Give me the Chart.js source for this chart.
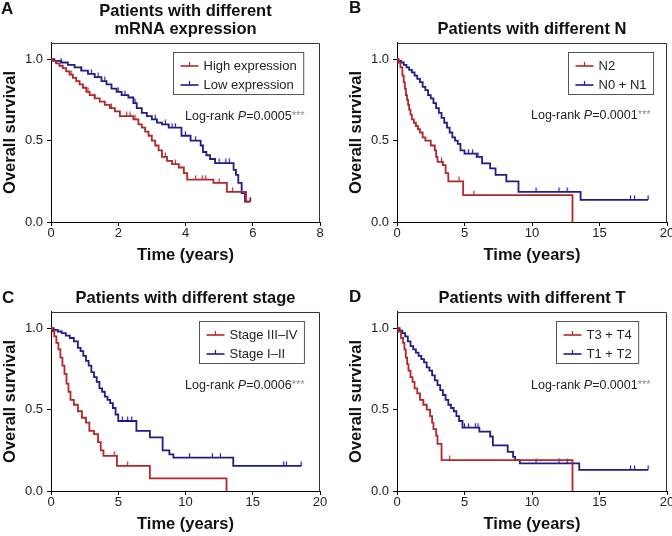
<!DOCTYPE html>
<html lang="en">
<head>
  <meta charset="UTF-8">
  <title>Overall survival by mRNA expression, N, stage and T</title>
  <script src="https://cdn.jsdelivr.net/npm/chart.js"></script>
  <style>
    body { margin: 0; background: #fff; }
    #grid { position: relative; width: 672px; height: 536px; }
    .panel { position: absolute; width: 336px; height: 268px; }
  </style>
</head>
<body>
  <div id="grid">
    <div class="panel" style="left:0;top:0"><canvas id="chartA" width="336" height="268"></canvas></div>
    <div class="panel" style="left:336px;top:0"><canvas id="chartB" width="336" height="268"></canvas></div>
    <div class="panel" style="left:0;top:268px"><canvas id="chartC" width="336" height="268"></canvas></div>
    <div class="panel" style="left:336px;top:268px"><canvas id="chartD" width="336" height="268"></canvas></div>
  </div>

  <script>
    // tick values / labels
    const yTickValues = [0, 0.5, 1.0];
    const yTickLabels = ['0.0', '0.5', '1.0'];
    const xTicksA = [0, 2, 4, 6, 8];
    const xTicksBCD = [0, 5, 10, 15, 20];
    const pValues = ['0.0005', '0.0001', '0.0006', '0.0001'];

    // A: mRNA expression (event times in years, survival after each event, censor times)
    const aHighTime = [0.05, 0.15, 0.25, 0.35, 0.45, 0.55, 0.65, 0.75, 0.85, 0.95, 1.05, 1.15, 1.3, 1.45, 1.6, 1.75, 1.9, 2.05, 2.45, 2.6, 2.7, 2.8, 2.9, 3.0, 3.1, 3.2, 3.3, 3.45, 3.6, 3.8, 3.95, 4.05, 4.83, 5.23, 5.8];
    const aHighSurv = [0.99, 0.975, 0.96, 0.945, 0.925, 0.905, 0.885, 0.865, 0.845, 0.825, 0.8, 0.78, 0.76, 0.74, 0.72, 0.7, 0.68, 0.65, 0.63, 0.6, 0.58, 0.555, 0.53, 0.5, 0.47, 0.44, 0.4, 0.375, 0.355, 0.335, 0.3, 0.26, 0.24, 0.185, 0.125];
    const aHighCens = [0.6, 1.1, 1.3, 1.8, 2.25, 2.35, 2.5, 3.4, 3.7, 4.3, 4.5, 4.6, 5.0, 5.4, 5.92];
    const aLowTime = [0.1, 0.3, 0.5, 0.7, 0.9, 1.1, 1.3, 1.5, 1.65, 1.8, 1.95, 2.1, 2.3, 2.45, 2.55, 2.7, 2.85, 3.0, 3.15, 3.3, 3.5, 3.88, 4.15, 4.45, 4.52, 4.62, 4.73, 4.88, 5.43, 5.5, 5.57, 5.67, 5.77];
    const aLowSurv = [0.99, 0.98, 0.965, 0.95, 0.93, 0.91, 0.89, 0.865, 0.845, 0.82, 0.8, 0.78, 0.765, 0.73, 0.7, 0.67, 0.65, 0.63, 0.61, 0.6, 0.58, 0.53, 0.5, 0.47, 0.43, 0.41, 0.387, 0.362, 0.32, 0.29, 0.24, 0.177, 0.125];
    const aLowCens = [0.3, 0.9, 1.2, 1.4, 1.6, 2.0, 2.2, 2.5, 3.1, 3.4, 3.6, 3.7, 4.0, 4.3, 5.0, 5.2, 5.3, 5.93];

    // B: N stage
    const bN2Time = [0.1, 0.25, 0.4, 0.5, 0.58, 0.66, 0.74, 0.82, 0.9, 1.0, 1.1, 1.25, 1.4, 1.55, 1.7, 1.9, 2.1, 2.5, 2.8, 2.9, 3.0, 3.4, 3.6, 3.8, 4.9, 13.0];
    const bN2Surv = [0.98, 0.95, 0.9, 0.86, 0.82, 0.78, 0.75, 0.72, 0.69, 0.66, 0.63, 0.61, 0.59, 0.57, 0.55, 0.52, 0.5, 0.47, 0.44, 0.4, 0.37, 0.35, 0.3, 0.25, 0.165, 0];
    const bN2Cens = [3.3, 4.6, 5.7];
    const bN01Time = [0.1, 0.3, 0.5, 0.7, 0.9, 1.1, 1.3, 1.5, 1.7, 1.9, 2.1, 2.3, 2.5, 2.7, 2.9, 3.1, 3.3, 3.5, 3.7, 3.9, 4.1, 4.3, 4.5, 4.7, 5.0, 5.9, 6.3, 6.9, 7.3, 8.1, 9.0, 13.6];
    const bN01Surv = [0.99, 0.98, 0.965, 0.95, 0.935, 0.92, 0.9, 0.88, 0.86, 0.83, 0.81, 0.78, 0.76, 0.73, 0.7, 0.67, 0.64, 0.61, 0.58, 0.55, 0.52, 0.5, 0.48, 0.44, 0.42, 0.4, 0.36, 0.33, 0.29, 0.25, 0.185, 0.136];
    const bN01Cens = [5.3, 5.6, 6.0, 10.3, 12.0, 12.6, 17.3, 17.6, 18.6];

    // C: stage
    const cLateTime = [0.1, 0.25, 0.4, 0.55, 0.7, 0.85, 1.0, 1.15, 1.3, 1.45, 1.7, 2.0, 2.3, 2.6, 2.85, 3.2, 3.5, 3.7, 3.9, 4.9, 7.35, 13.05];
    const cLateSurv = [0.98, 0.95, 0.91, 0.87, 0.82, 0.77, 0.72, 0.66, 0.61, 0.56, 0.53, 0.49, 0.45, 0.42, 0.37, 0.35, 0.3, 0.25, 0.216, 0.154, 0.078, 0];
    const cLateCens = [4.7, 5.7];
    const cEarlyTime = [0.2, 0.5, 0.8, 1.1, 1.4, 1.7, 2.0, 2.2, 2.4, 2.6, 2.8, 3.0, 3.2, 3.4, 3.6, 3.8, 4.0, 4.2, 4.4, 4.6, 4.8, 5.0, 6.35, 7.35, 8.3, 8.8, 9.1, 13.55];
    const cEarlySurv = [0.99, 0.98, 0.97, 0.955, 0.94, 0.92, 0.88, 0.86, 0.83, 0.8, 0.77, 0.73, 0.7, 0.67, 0.63, 0.61, 0.58, 0.56, 0.54, 0.51, 0.47, 0.43, 0.37, 0.33, 0.25, 0.225, 0.205, 0.154];
    const cEarlyCens = [5.3, 5.7, 6.0, 10.3, 12.0, 12.6, 17.3, 17.5, 18.6];

    // D: T stage
    const dT34Time = [0.1, 0.3, 0.45, 0.55, 0.65, 0.75, 0.85, 1.0, 1.15, 1.3, 1.5, 1.7, 1.95, 2.2, 2.45, 2.6, 2.7, 2.9, 3.0, 3.3, 13.0];
    const dT34Surv = [0.98, 0.94, 0.91, 0.87, 0.82, 0.78, 0.74, 0.7, 0.67, 0.63, 0.6, 0.56, 0.53, 0.5, 0.46, 0.42, 0.38, 0.34, 0.29, 0.19, 0];
    const dT34Cens = [3.9];
    const dT12Time = [0.2, 0.4, 0.6, 0.8, 1.0, 1.2, 1.4, 1.6, 1.8, 2.0, 2.2, 2.4, 2.6, 2.8, 3.0, 3.2, 3.4, 3.6, 3.8, 4.0, 4.2, 4.4, 4.6, 4.85, 6.1, 6.9, 7.1, 8.2, 8.6, 8.75, 9.1, 13.5];
    const dT12Surv = [0.985, 0.97, 0.95, 0.92, 0.89, 0.87, 0.85, 0.83, 0.81, 0.79, 0.76, 0.74, 0.71, 0.68, 0.65, 0.62, 0.59, 0.56, 0.53, 0.51, 0.49, 0.46, 0.43, 0.39, 0.365, 0.335, 0.28, 0.24, 0.21, 0.19, 0.17, 0.13];
    const dT12Cens = [5.0, 5.3, 5.8, 6.0, 10.3, 12.0, 12.6, 17.3, 17.6, 18.6];

    const RED = '#b3262c';
    const BLUE = '#1f1d8a';
    const FAMILY = "'Liberation Sans', Arial, Helvetica, sans-serif";
    Chart.defaults.font.family = FAMILY;
    Chart.defaults.color = '#222';

    function survAt(times, surv, t) {
      let s = 1;
      times.forEach((ti, i) => { if (ti <= t) s = surv[i]; });
      return s;
    }

    function kmCurve(times, surv, cens) {
      const pts = [{x: 0, y: 1}];
      times.forEach((t, i) => pts.push({x: t, y: surv[i]}));
      const lastEvent = times[times.length - 1];
      const lastCens = Math.max(...cens);
      if (lastCens > lastEvent) pts.push({x: lastCens, y: surv[surv.length - 1]});
      return pts;
    }

    // small upward tick used for censored patients
    function tickMark(color) {
      const c = document.createElement('canvas');
      c.width = 3; c.height = 10;
      const g = c.getContext('2d');
      g.strokeStyle = color; g.lineWidth = 1.2;
      g.beginPath(); g.moveTo(1.5, 0.5); g.lineTo(1.5, 5); g.stroke();
      return c;
    }

    function kmSets(label, color, times, surv, cens) {
      return [
        { label, data: kmCurve(times, surv, cens), borderColor: color, borderWidth: 1.8, stepped: true, pointRadius: 0, fill: false },
        { label: label + ' (censored)', censor: true, data: cens.map(t => ({x: t, y: survAt(times, surv, t)})),
          showLine: false, pointStyle: tickMark(color), pointRadius: 3, borderColor: color }
      ];
    }

    // frame, inside legend, log-rank note and panel letter
    const kmExtras = {
      id: 'kmExtras',
      afterDraw(chart, args, opts) {
        const {ctx, chartArea: a} = chart;
        ctx.save();
        ctx.strokeStyle = '#333';
        ctx.lineWidth = 1;
        ctx.beginPath();
        ctx.moveTo(a.left, a.top + 0.5);
        ctx.lineTo(a.right - 0.5, a.top + 0.5);
        ctx.lineTo(a.right - 0.5, a.bottom);
        ctx.stroke();

        // legend box
        const items = chart.data.datasets.filter(d => !d.censor);
        ctx.font = '13px ' + FAMILY;
        const textW = Math.max(...items.map(d => ctx.measureText(d.label).width));
        const lx = Math.round(a.left + opts.legend.dx) + 0.5;
        const ly = Math.round(a.top + opts.legend.dy) + 0.5;
        ctx.strokeStyle = '#555';
        ctx.strokeRect(lx, ly, 7 + 18 + 5 + textW + 7, 42);
        ctx.textBaseline = 'middle';
        ctx.textAlign = 'left';
        items.forEach((d, i) => {
          const y = Math.round(ly + 13 + i * 19);
          ctx.strokeStyle = d.borderColor;
          ctx.lineWidth = 1.6;
          ctx.beginPath(); ctx.moveTo(lx + 7, y); ctx.lineTo(lx + 25, y); ctx.stroke();
          ctx.lineWidth = 1.2;
          ctx.beginPath(); ctx.moveTo(lx + 16, y); ctx.lineTo(lx + 16, y - 4); ctx.stroke();
          ctx.fillStyle = '#222';
          ctx.fillText(d.label, lx + 30, y + 0.5);
        });

        // Log-rank P
        let x = a.left + opts.logrank.dx;
        const y = a.top + opts.logrank.dy;
        const parts = [
          ['12.5px ', 'Log-rank ', '#222', 0],
          ['italic 12.5px ', 'P', '#222', 0],
          ['12.5px ', '=' + opts.logrank.p, '#222', 0],
          ['11px ', '***', '#8c8c8c', -1]
        ];
        parts.forEach(([font, text, color, dy]) => {
          ctx.font = font + FAMILY;
          ctx.fillStyle = color;
          ctx.fillText(text, x, y + dy);
          x += ctx.measureText(text).width;
        });

        // panel letter
        ctx.font = 'bold 17px ' + FAMILY;
        ctx.fillStyle = '#111';
        ctx.fillText(opts.letter.text, opts.letter.x, opts.letter.y);
        ctx.restore();
      }
    };

    function makeChart(id, p) {
      return new Chart(document.getElementById(id), {
        type: 'line',
        data: { datasets: p.datasets },
        plugins: [kmExtras],
        options: {
          responsive: false,
          animation: false,
          events: [],
          layout: { padding: { left: 0, right: p.padRight, top: 0, bottom: 0 } },
          scales: {
            x: {
              type: 'linear', min: 0, max: p.xTicks[p.xTicks.length - 1],
              afterBuildTicks: s => { s.ticks = p.xTicks.map(v => ({value: v})); },
              afterFit: s => { s.height = p.xHeight; s.paddingLeft = 0; s.paddingRight = 0; },
              ticks: { font: { size: 13 }, padding: 0, maxRotation: 0, autoSkip: false },
              grid: { drawOnChartArea: false, drawTicks: true, tickLength: 4, color: '#000' },
              border: { color: '#000', width: 1 },
              title: { display: true, text: 'Time (years)', color: '#111',
                font: { size: 16.5, weight: 'bold', lineHeight: 1.09 }, padding: { top: 0, bottom: p.xTitlePad } }
            },
            y: {
              type: 'linear', min: 0, max: 1.1,
              afterBuildTicks: s => { s.ticks = yTickValues.map(v => ({value: v})); },
              afterFit: s => { s.width = p.yWidth; s.paddingTop = 0; s.paddingBottom = 0; },
              ticks: { font: { size: 13 }, padding: 4, callback: (v, i) => yTickLabels[i] },
              grid: { drawOnChartArea: false, drawTicks: true, tickLength: 4, color: '#000' },
              border: { color: '#000', width: 1 },
              title: { display: true, text: 'Overall survival', color: '#111',
                font: { size: 16.5, weight: 'bold', lineHeight: 1.09 }, padding: { top: p.yTitlePad, bottom: 0 } }
            }
          },
          plugins: {
            legend: { display: false },
            tooltip: { enabled: false },
            title: {
              display: true, text: p.title, fullSize: false, color: '#111',
              font: { size: 16.5, weight: 'bold', lineHeight: 1.09 },
              padding: p.titlePad
            },
            kmExtras: { legend: p.legend, logrank: p.logrank, letter: p.letter }
          }
        }
      });
    }

    makeChart('chartA', {
      title: ['Patients with different', 'mRNA expression'], titlePad: { top: 2, bottom: 5 },
      padRight: 16, yWidth: 51, yTitlePad: 1, xHeight: 46, xTitlePad: 4, xTicks: xTicksA,
      legend: { dx: 122, dy: 9 }, logrank: { dx: 134, dy: 74, p: pValues[0] }, letter: { text: 'A', x: 1, y: 9 },
      datasets: [...kmSets('High expression', RED, aHighTime, aHighSurv, aHighCens),
                 ...kmSets('Low expression', BLUE, aLowTime, aLowSurv, aLowCens)]
    });

    makeChart('chartB', {
      title: 'Patients with different N', titlePad: { top: 20, bottom: 5 },
      padRight: 4, yWidth: 61, yTitlePad: 11, xHeight: 46, xTitlePad: 4, xTicks: xTicksBCD,
      legend: { dx: 171, dy: 9 }, logrank: { dx: 134, dy: 73, p: pValues[1] }, letter: { text: 'B', x: 13, y: 8 },
      datasets: [...kmSets('N2', RED, bN2Time, bN2Surv, bN2Cens),
                 ...kmSets('N0 + N1', BLUE, bN01Time, bN01Surv, bN01Cens)]
    });

    makeChart('chartC', {
      title: 'Patients with different stage', titlePad: { top: 21, bottom: 5 },
      padRight: 16, yWidth: 51, yTitlePad: 1, xHeight: 45, xTitlePad: 3, xTicks: xTicksBCD,
      legend: { dx: 148, dy: 9 }, logrank: { dx: 134, dy: 74, p: pValues[2] }, letter: { text: 'C', x: 2, y: 30.5 },
      datasets: [...kmSets('Stage III\u2013IV', RED, cLateTime, cLateSurv, cLateCens),
                 ...kmSets('Stage I\u2013II', BLUE, cEarlyTime, cEarlySurv, cEarlyCens)]
    });

    makeChart('chartD', {
      title: 'Patients with different T', titlePad: { top: 21, bottom: 5 },
      padRight: 4, yWidth: 61, yTitlePad: 11, xHeight: 45, xTitlePad: 3, xTicks: xTicksBCD,
      legend: { dx: 159, dy: 9 }, logrank: { dx: 134, dy: 74, p: pValues[3] }, letter: { text: 'D', x: 13, y: 29.5 },
      datasets: [...kmSets('T3 + T4', RED, dT34Time, dT34Surv, dT34Cens),
                 ...kmSets('T1 + T2', BLUE, dT12Time, dT12Surv, dT12Cens)]
    });
  </script>
</body>
</html>
